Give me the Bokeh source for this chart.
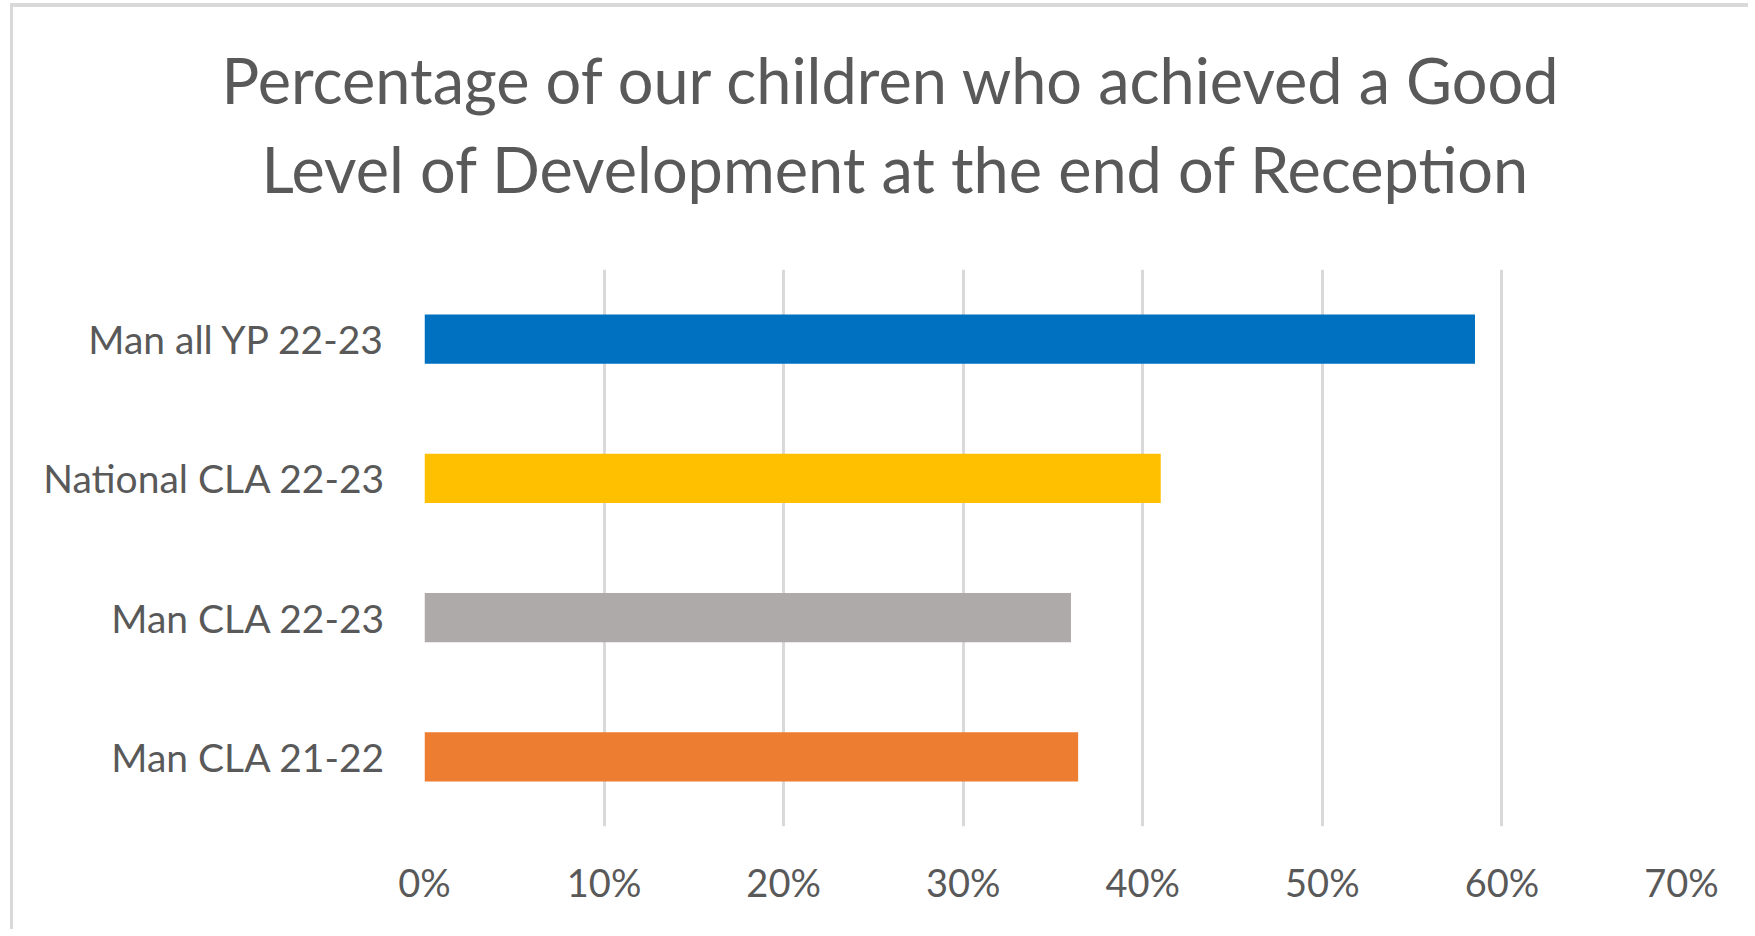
from bokeh.plotting import figure
from bokeh.models import ColumnDataSource, FactorRange, Range1d, FixedTicker, Title
from bokeh.embed import file_html
from bokeh.resources import INLINE

# ---- data ----
categories = ["Man all YP 22-23", "National CLA 22-23", "Man CLA 22-23", "Man CLA 21-22"]
values = [0.585, 0.41, 0.36, 0.364]
bar_colors = ["#0070C0", "#FFC000", "#AEAAAA", "#ED7D31"]
tick_values = [0, 0.1, 0.2, 0.3, 0.4, 0.5, 0.6, 0.7]
tick_labels = ["0%", "10%", "20%", "30%", "40%", "50%", "60%", "70%"]
title_lines = ["Percentage of our children who achieved a Good",
               "Level of Development at the end of Reception"]

FONT = "Lato"
TXT = "#595959"
W, H = 1738, 926

src = ColumnDataSource(dict(cat=categories, val=values, color=bar_colors))

p = figure(width=W, height=H,
           y_range=FactorRange(factors=categories[::-1]),
           x_range=Range1d(0, 0.7),
           output_backend="svg", toolbar_location=None,
           min_border_left=411, min_border_right=70,
           min_border_top=262, min_border_bottom=107)
p.styles = {"border-left": "3px solid #d9d9d9", "border-top": "4px solid #d9d9d9",
            "margin-left": "10px", "margin-top": "3px"}
p.outline_line_color = None
p.background_fill_color = "white"
p.border_fill_color = "white"

p.hbar(y="cat", left=0, right="val", height=0.352, fill_color="color",
       line_color=None, source=src)

# grid
p.xgrid.ticker = FixedTicker(ticks=tick_values)
p.xgrid.grid_line_color = "#d9d9d9"
p.xgrid.grid_line_width = 3
p.ygrid.grid_line_color = None

# x axis
p.xaxis.ticker = FixedTicker(ticks=tick_values)
p.xaxis.major_label_overrides = {v: l for v, l in zip(tick_values, tick_labels)}
p.xaxis.axis_line_color = None
p.xaxis.major_tick_line_color = None
p.xaxis.minor_tick_line_color = None
p.xaxis.major_tick_out = 0
p.xaxis.major_tick_in = 0
p.xaxis.major_label_standoff = 32
p.xaxis.major_label_text_font = FONT
p.xaxis.major_label_text_font_size = "38px"
p.xaxis.major_label_text_color = TXT

# y axis
p.yaxis.axis_line_color = None
p.yaxis.major_tick_line_color = None
p.yaxis.minor_tick_line_color = None
p.yaxis.major_tick_out = 0
p.yaxis.major_tick_in = 0
p.yaxis.major_label_standoff = 39
p.yaxis.major_label_text_font = FONT
p.yaxis.major_label_text_font_size = "39px"
p.yaxis.major_label_text_color = TXT

# title (two lines; the one added first sits nearest the plot)
title_style = dict(align="left", text_font=FONT, text_font_size="63px",
                   text_color=TXT, text_font_style="normal")
p.add_layout(Title(text=title_lines[1], offset=-163, standoff=127, **title_style), "above")
p.add_layout(Title(text=title_lines[0], offset=-203, standoff=-102, **title_style), "above")

open("out.html", "w").write(file_html(p, INLINE))
